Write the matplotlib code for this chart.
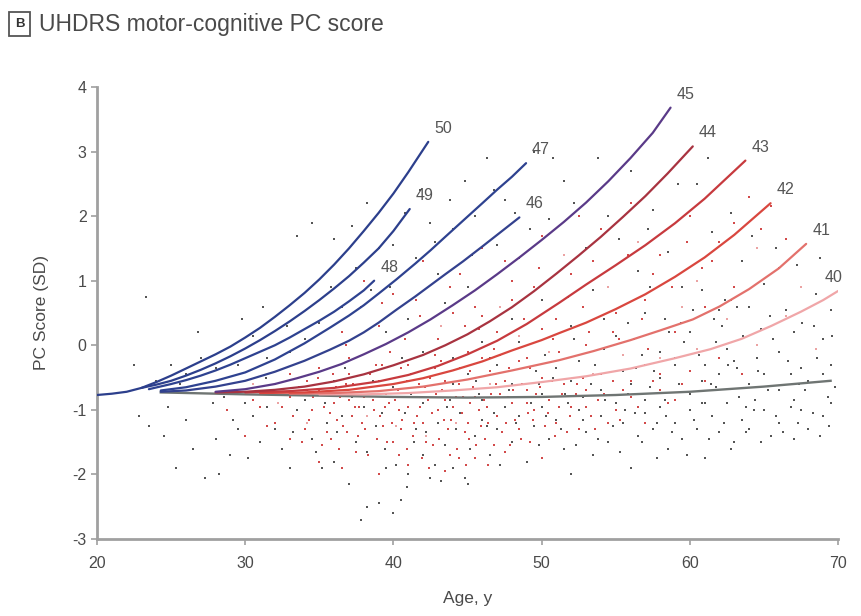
import numpy as np
import matplotlib.pyplot as plt

plt.rcParams['font.family'] = ['Liberation Sans', 'DejaVu Sans']
plt.rcParams['axes.unicode_minus'] = False

# fitted trajectories: (age, PC score) per CAG length
curves = {
    '50': [(20, -0.77), (21, -0.75), (22, -0.72), (23, -0.66), (24, -0.57), (25, -0.47), (26, -0.36),
           (27, -0.25), (28, -0.14), (29, -0.02), (30, 0.12), (31, 0.27), (32, 0.44), (33, 0.62),
           (34, 0.81), (35, 1.02), (36, 1.25), (37, 1.5), (38, 1.77), (39, 2.05), (40, 2.35),
           (41, 2.68), (42.35, 3.15)],
    '49': [(23, -0.66), (24, -0.61), (25, -0.55), (26, -0.47), (27, -0.38), (28, -0.28), (29, -0.17),
           (30, -0.05), (31, 0.08), (32, 0.22), (33, 0.37), (34, 0.53), (35, 0.7), (36, 0.88),
           (37, 1.07), (38, 1.28), (39, 1.5), (40, 1.77), (41.1, 2.11)],
    '48': [(23.5, -0.68), (25, -0.6), (26, -0.54), (27, -0.47), (28, -0.39), (29, -0.3), (30, -0.2),
           (31, -0.1), (32, 0.0), (33, 0.12), (34, 0.25), (35, 0.38), (36, 0.52), (37, 0.68),
           (38, 0.85), (38.7, 1.0)],
    '47': [(24.3, -0.7), (26, -0.65), (28, -0.55), (30, -0.42), (32, -0.22), (34, 0.03), (35.7, 0.27),
           (37, 0.46), (38, 0.62), (39, 0.8), (40.2, 1.02), (41.5, 1.27), (42.5, 1.47), (43.5, 1.68),
           (44.7, 1.93), (46, 2.2), (47, 2.41), (48, 2.61), (48.95, 2.82)],
    '46': [(24.3, -0.72), (26, -0.7), (28, -0.64), (30, -0.55), (32, -0.41), (34, -0.24),
           (35.7, -0.07), (37, 0.07), (38, 0.2), (39, 0.35), (40.2, 0.55), (41.5, 0.76), (42.5, 0.93),
           (43.5, 1.1), (44.7, 1.3), (46, 1.53), (47, 1.71), (48.5, 1.98)],
    '45': [(28, -0.72), (30, -0.68), (32, -0.6), (33.5, -0.51), (35, -0.41), (36.5, -0.29),
           (38, -0.14), (39.5, 0.02), (41, 0.2), (42.5, 0.4), (44, 0.62), (45.5, 0.85), (47, 1.1),
           (48.5, 1.36), (50, 1.63), (51.5, 1.91), (53, 2.21), (54.5, 2.54), (56, 2.9), (57.5, 3.29),
           (58.7, 3.68)],
    '44': [(28, -0.73), (30, -0.72), (32, -0.69), (34, -0.64), (36, -0.56), (38, -0.45), (40, -0.31),
           (42, -0.15), (43.5, 0.0), (45, 0.17), (46.5, 0.37), (48, 0.59), (49.5, 0.84), (51, 1.11),
           (52.5, 1.39), (54, 1.68), (55.5, 1.99), (57, 2.31), (58.5, 2.66), (60.2, 3.08)],
    '43': [(30, -0.73), (33, -0.71), (36, -0.66), (39, -0.56), (41, -0.46), (43, -0.32), (45, -0.14),
           (47, 0.07), (49, 0.33), (51.2, 0.66), (53, 0.94), (55, 1.24), (57, 1.55), (59, 1.89),
           (61, 2.27), (63.75, 2.86)],
    '42': [(31, -0.74), (34, -0.73), (37, -0.69), (40, -0.6), (42, -0.51), (44, -0.39), (46, -0.25),
           (48, -0.08), (50, 0.08), (51.2, 0.19), (53, 0.35), (55, 0.56), (57, 0.79), (59, 1.06),
           (61, 1.36), (63, 1.71), (65.45, 2.2)],
    '41': [(33, -0.75), (36, -0.74), (39, -0.71), (42, -0.64), (45, -0.53), (48, -0.39), (51.2, -0.23),
           (53.5, -0.09), (56, 0.08), (58, 0.23), (60.2, 0.4), (62, 0.6), (64, 0.87), (66, 1.19),
           (67.85, 1.57)],
    '40': [(35, -0.76), (38, -0.76), (41, -0.74), (44, -0.7), (47, -0.65), (50, -0.57), (53, -0.48),
           (56, -0.36), (59, -0.2), (61.4, -0.06), (63.5, 0.1), (65.5, 0.3), (67.5, 0.52), (69, 0.7),
           (70, 0.84)],
}
control = [(24.3, -0.73), (30, -0.76), (35, -0.78), (40, -0.8), (45, -0.81), (50, -0.8),
           (55, -0.77), (60, -0.72), (65, -0.64), (69.5, -0.55)]

curve_colors = {
    '50': '#2c3f8c', '49': '#2c3f8c', '48': '#2e4290', '47': '#2e4290', '46': '#33418e',
    '45': '#5a3a88', '44': '#a83340', '43': '#c73a3e', '42': '#d9473f',
    '41': '#e3716c', '40': '#f0a6a8',
}

# individual observations (rough readings of the cloud)
dark_pts = [
    (23.3, 0.75), (36.0, 1.65), (37.5, 1.2), (38.5, 0.85), (39.0, 1.5), (40.8, 2.05), (40.0, 1.55),
    (41.5, 1.35), (42.5, 1.9), (43.0, 1.1), (44.0, 1.8), (44.8, 2.55), (45.5, 2.0), (46.3, 2.9),
    (47.0, 1.55), (47.5, 2.25), (48.5, 1.35), (49.5, 3.0), (50.5, 1.95), (51.5, 2.55), (53.0, 1.5),
    (54.5, 2.0), (56.0, 2.7), (56.5, 1.15), (57.5, 2.1), (58.5, 1.45), (59.5, 0.9), (60.5, 2.5),
    (61.5, 1.75), (62.0, 0.55), (63.5, 1.3), (64.0, 0.6), (65.0, 0.95), (66.5, 0.55), (67.0, 0.2),
    (68.5, 0.8), (69.0, 0.1), (43.5, 0.65), (45.0, 0.9), (41.0, 0.4), (39.5, 0.2), (36.5, 0.6),
    (35.0, 0.35), (34.0, 0.1), (33.0, -0.1), (31.5, -0.2), (30.5, 0.15), (29.5, -0.3), (28.0, -0.35),
    (27.0, -0.2), (26.0, -0.45), (25.0, -0.3), (24.0, -0.55), (50.0, 0.7), (52.0, 0.3), (53.5, 0.85),
    (55.0, 0.15), (57.0, 0.5), (58.0, -0.1), (60.0, 0.2), (61.0, -0.3), (62.5, -0.05), (64.5, -0.2),
    (66.0, -0.1), (67.5, -0.35), (69.5, -0.3), (55.5, -0.4), (52.5, -0.25), (48.0, 0.4), (46.0, 0.05),
    (44.0, -0.2), (42.0, -0.1), (55.8, 0.35), (58.3, 0.4), (60.2, 0.55), (62.2, 0.3), (59.0, -0.2),
    (61.8, 0.05), (63.2, -0.35), (56.8, -0.15), (54.2, -0.05), (64.8, 0.25), (66.8, -0.45),
    (22.8, -1.1), (23.5, -1.25), (24.5, -1.4), (25.3, -1.9), (26.0, -1.15), (27.3, -2.05),
    (28.2, -2.0), (28.0, -1.45), (29.0, -1.7), (29.5, -1.3), (30.5, -1.1), (31.0, -1.5), (32.0, -1.3),
    (33.0, -1.9), (33.5, -1.0), (34.5, -1.45), (35.5, -1.2), (36.0, -1.8), (36.5, -1.1), (37.0, -2.15),
    (37.5, -1.5), (37.8, -2.7), (38.2, -2.5), (39.0, -2.45), (40.0, -2.6), (40.5, -2.4), (39.5, -1.9),
    (41.0, -2.0), (41.5, -1.3), (42.0, -1.7), (42.5, -2.05), (43.0, -1.2), (43.5, -1.55), (44.0, -1.9),
    (44.5, -1.05), (45.0, -2.15), (45.5, -1.4), (46.0, -1.15), (46.5, -1.7), (47.0, -1.3), (47.5, -0.95),
    (48.0, -1.5), (48.5, -1.1), (49.0, -1.8), (49.5, -1.25), (50.0, -0.95), (50.5, -1.45), (51.0, -1.15),
    (51.5, -1.6), (52.0, -2.0), (52.5, -1.0), (53.0, -1.35), (53.5, -1.7), (54.0, -1.1), (54.5, -1.5),
    (55.0, -0.9), (55.5, -1.2), (56.0, -1.9), (56.5, -1.4), (57.0, -1.05), (57.5, -1.3), (58.0, -0.95),
    (58.5, -1.6), (59.0, -1.2), (59.5, -1.45), (60.0, -1.0), (60.5, -1.3), (61.0, -1.75), (61.5, -1.1),
    (62.0, -1.35), (62.5, -0.9), (63.0, -1.5), (63.5, -1.15), (64.0, -1.3), (65.0, -1.0), (65.5, -1.4),
    (66.0, -1.2), (67.0, -1.45), (67.5, -1.0), (68.0, -1.3), (69.0, -1.1), (69.5, -0.9),
    (30.0, -0.9), (32.0, -0.6), (34.0, -0.85), (36.0, -0.55), (38.0, -0.95), (40.0, -0.65),
    (42.0, -0.9), (44.0, -0.6), (46.0, -0.85), (48.0, -0.6), (50.0, -0.75), (52.0, -0.55),
    (54.0, -0.7), (56.0, -0.6), (58.0, -0.5), (60.0, -0.75), (62.0, -0.45), (64.0, -0.6),
    (66.0, -0.7), (68.0, -0.55), (69.8, -0.65), (45.0, -0.45), (47.0, -0.3), (51.0, -0.35),
    (53.0, -0.95), (57.0, -0.85), (59.0, -0.3), (61.0, -0.9), (63.0, -0.25), (65.0, -0.45),
    (67.0, -0.85), (69.0, -0.45), (34.8, -1.65), (38.8, -1.25), (40.8, -1.05), (43.8, -0.85),
    (46.8, -1.05), (49.8, -0.6), (52.8, -0.8), (57.8, -1.75), (60.8, -0.55), (63.8, -0.95),
    (22.5, -0.3), (24.8, -0.95), (26.5, -1.6), (27.8, -0.9), (29.2, -1.15), (30.2, -1.75), (31.5, -0.95),
    (32.5, -1.6), (26.8, 0.2), (29.8, 0.4), (31.2, 0.6), (32.8, 0.3), (33.5, 1.7), (34.5, 1.9),
    (35.8, 0.9), (37.2, 1.85), (38.2, 2.2), (39.8, 0.9), (41.8, 2.4), (42.8, 1.6), (43.8, 2.25),
    (45.3, 1.4), (46.8, 2.4), (48.2, 2.05), (49.2, 1.8), (50.8, 2.9), (52.2, 2.2), (53.8, 2.9),
    (55.2, 1.65), (57.2, 1.8), (59.2, 2.5), (61.2, 2.9), (62.8, 2.05), (64.2, 1.7), (65.8, 1.5),
    (67.2, 1.25), (68.8, 1.35), (69.5, 0.55),
    (45.2, -1.6), (45.8, -0.75), (46.3, -1.25), (47.2, -1.85), (47.8, -0.7), (48.3, -1.2), (49.3, -0.9),
    (49.8, -1.55), (50.3, -1.1), (50.8, -0.5), (51.3, -1.3), (51.8, -0.9), (52.3, -1.55), (52.8, -1.15),
    (53.3, -0.6), (53.8, -1.45), (54.3, -0.85), (54.8, -1.25), (55.3, -1.65), (55.8, -0.75),
    (56.3, -1.05), (56.8, -1.5), (57.3, -0.65), (57.8, -1.2), (58.3, -0.85), (58.8, -1.35), (59.3, -0.6),
    (59.8, -1.7), (60.3, -1.15), (60.8, -0.9), (61.3, -1.45), (61.8, -0.65), (62.3, -1.2), (62.8, -1.6),
    (63.3, -0.8), (63.8, -1.35), (64.3, -1.0), (64.8, -1.5), (65.3, -0.7), (65.8, -1.1), (66.3, -1.35),
    (66.8, -0.95), (67.3, -1.2), (67.8, -0.7), (68.3, -1.05), (68.8, -1.4), (69.3, -0.8),
    (46.5, -0.2), (48.5, 0.05), (50.2, -0.15), (52.2, 0.1), (54.2, 0.4), (56.2, 0.1), (57.6, -0.4),
    (58.6, 0.2), (59.6, 0.05), (60.6, -0.15), (61.6, 0.4), (62.6, -0.3), (63.6, 0.15), (64.6, -0.4),
    (65.6, 0.1), (66.6, -0.25), (67.6, 0.35), (68.6, -0.2), (69.6, 0.15), (57.3, 0.9), (60.8, 0.85),
    (63.2, 0.6), (33.2, -1.35), (34.2, -0.7), (35.2, -1.9), (36.2, -1.35), (37.2, -0.8), (38.2, -1.65),
    (39.2, -1.05), (40.2, -1.85), (41.2, -0.75), (42.2, -1.35), (43.2, -2.1), (44.2, -1.3),
    (40.9, -2.2), (42.8, -1.85), (44.8, -2.05),
    (36.7, -0.35), (38.6, -0.55), (40.6, -0.2), (43.6, -0.95), (45.6, -0.55), (47.6, -1.2), (49.6, -0.4),
    (51.6, -0.75), (53.6, -0.3), (55.6, -1.0), (58.4, -1.1), (61.4, -0.6), (64.4, -0.85), (67.4, -0.6),
    (69.4, -1.25), (56.4, -0.35), (59.4, 0.35), (62.4, 0.7), (65.4, 0.45), (68.4, 0.3), (39.4, -1.6),
    (41.4, -1.5), (35.4, -0.9), (31.4, -0.5), (28.6, -0.8), (25.6, -0.6),
]

red_pts = [
    (38.0, 1.0), (40.0, 0.8), (42.0, 1.3), (44.0, 0.5), (46.0, 1.5), (48.0, 1.0), (50.0, 1.7),
    (52.0, 1.1), (54.0, 1.8), (56.0, 2.2), (58.0, 1.4), (60.0, 2.0), (62.0, 1.6), (64.0, 2.3),
    (65.5, 2.15), (66.0, 1.2), (63.0, 0.9), (61.0, 0.6), (59.0, 0.2), (57.0, 0.7), (55.0, 0.5),
    (53.0, 0.0), (51.0, 0.4), (49.0, -0.2), (47.0, 0.2), (45.0, -0.1), (43.0, 0.1), (41.0, -0.3),
    (39.0, 0.3), (37.0, -0.2), (35.0, -0.35), (33.0, -0.45), (36.5, 0.2), (39.8, -0.1), (42.8, -0.35),
    (31.0, -0.95), (32.0, -1.2), (33.0, -0.8), (33.8, -1.5), (34.5, -1.0), (35.0, -0.7), (35.5, -1.35),
    (36.0, -0.9), (36.3, -1.6), (36.8, -0.6), (37.2, -1.1), (37.6, -1.4), (38.0, -0.8), (38.3, -1.7),
    (38.7, -1.0), (39.0, -0.55), (39.3, -1.25), (39.7, -0.9), (40.0, -1.5), (40.3, -0.7), (40.6, -1.15),
    (41.0, -0.95), (41.3, -1.4), (41.7, -0.6), (42.0, -1.2), (42.3, -0.85), (42.7, -1.55), (43.0, -1.0),
    (43.3, -0.7), (43.7, -1.3), (44.0, -0.95), (44.3, -1.6), (44.7, -0.8), (45.0, -1.2), (45.4, -0.65),
    (45.8, -1.0), (46.2, -1.45), (46.6, -0.75), (47.0, -1.1), (47.5, -0.55), (48.0, -0.9), (48.5, -1.3),
    (49.0, -0.7), (49.5, -1.0), (50.0, -0.5), (50.5, -0.85), (51.0, -1.2), (51.5, -0.6), (52.0, -0.95),
    (53.0, -0.7), (54.0, -0.45), (55.0, -1.0), (56.0, -0.55), (57.0, -0.3), (58.0, -0.7), (60.0, -0.4),
    (34.2, -0.55), (36.2, -1.15), (38.4, -0.45), (40.5, -0.35), (42.5, -0.5), (44.5, -0.35),
    (46.5, -0.4), (48.5, -0.25), (37.4, -0.95), (41.9, -1.75), (44.9, -1.85), (47.9, -1.55),
    (35.9, -0.45), (39.5, -0.75), (43.5, -0.55), (46.0, -0.2), (49.2, -1.5), (52.5, -1.3),
    (30.0, -1.4), (31.8, -0.7), (28.8, -1.0), (37.8, 0.6), (41.5, 0.7), (45.5, 0.6), (49.5, 0.9),
    (53.5, 1.3), (57.5, 1.1), (61.5, 1.3), (44.5, 1.1), (47.5, 1.3), (52.5, 2.0), (63.0, 1.9),
    (34.0, -1.3), (34.6, -0.8), (35.2, -1.55), (35.7, -1.05), (36.1, -0.65), (36.6, -1.25), (37.0, -0.85),
    (37.5, -1.65), (37.9, -1.2), (38.5, -0.65), (38.9, -1.45), (39.4, -0.95), (39.9, -1.2), (40.4, -1.0),
    (40.9, -1.6), (41.2, -0.8), (41.6, -1.1), (42.1, -0.65), (42.6, -1.05), (43.1, -1.45), (43.5, -0.85),
    (43.9, -1.15), (44.4, -0.6), (44.8, -1.35), (45.2, -0.9), (45.6, -1.55), (46.1, -0.85), (46.4, -1.2),
    (46.9, -0.6), (47.3, -1.35), (47.7, -0.8), (48.2, -1.15), (48.7, -0.6), (49.1, -1.05), (49.6, -0.75),
    (50.2, -1.25), (50.7, -0.55), (51.2, -0.95), (51.7, -1.35), (52.3, -0.75), (52.8, -0.5), (53.3, -1.1),
    (53.8, -0.85), (54.5, -1.2), (55.5, -0.7), (56.5, -0.95), (57.5, -0.55), (58.5, -0.9), (59.5, -0.6),
    (61.0, -0.55), (62.0, -0.2), (63.5, -0.45), (36.8, 0.0), (38.8, -0.3), (40.8, 0.1), (42.8, -0.15),
    (44.8, 0.3), (46.8, -0.05), (48.8, 0.4), (50.8, 0.1), (52.8, 0.6), (54.8, 0.2), (56.8, 0.4),
    (58.8, 0.9), (60.8, 1.2), (62.8, 0.7), (64.8, 1.8), (66.5, 1.65), (59.8, 1.6), (55.8, 1.4),
    (51.8, 0.75), (47.8, -0.35), (45.8, 0.25), (41.8, 0.45), (39.2, 0.65), (43.8, 0.9), (49.8, 1.2),
    (36.5, -1.9), (39.0, -2.0), (41.0, -1.85), (43.5, -1.95), (45.5, -1.75), (47.5, -1.65), (50.0, -1.75),
    (35.0, -1.8), (33.0, -1.45), (31.5, -1.25), (30.5, -0.85),
    (32.5, -0.95), (33.2, -1.1), (33.6, -0.65), (34.3, -1.15), (34.9, -0.5), (35.3, -0.95), (35.8, -1.45),
    (36.4, -0.8), (36.9, -1.35), (37.3, -0.6), (37.7, -0.95), (38.1, -1.3), (38.6, -0.85), (39.1, -1.1),
    (39.6, -1.5), (40.1, -0.85), (40.5, -1.3), (40.9, -0.55), (41.4, -1.2), (41.8, -0.95), (42.2, -1.5),
    (42.9, -0.75), (43.4, -1.15), (43.8, -1.7), (44.2, -0.8), (44.6, -1.05), (45.1, -1.45), (45.5, -0.8),
    (45.9, -1.25), (46.3, -0.95), (46.8, -1.55), (47.2, -0.75), (47.6, -1.2), (48.1, -0.7), (48.6, -1.45),
    (49.0, -0.9), (49.4, -1.15), (49.9, -0.65), (50.4, -1.05), (50.9, -1.4), (51.4, -0.75), (51.9, -1.1),
    (52.4, -0.6), (53.0, -0.95), (53.6, -1.3), (54.2, -0.75), (54.8, -0.55), (55.3, -1.15), (56.0, -0.8),
    (57.0, -1.2), (58.0, -0.45), (59.0, -0.85), (37.0, -0.45), (39.2, -0.3), (41.2, -0.45), (43.2, -0.25),
    (45.2, -0.4), (47.2, -0.15), (49.2, -0.35), (51.2, -0.1), (53.2, 0.2), (55.2, 0.1), (57.2, -0.05),
    (46.0, 0.45), (48.0, 0.7), (50.0, 0.25), (40.4, -1.7), (42.4, -1.9), (44.4, -1.75), (46.4, -1.85),
]

pink_pts = [
    (58.0, -0.2), (60.5, -0.05), (62.5, 0.4), (64.5, 0.0), (66.5, 0.45), (68.5, -0.05), (59.5, 0.6),
    (55.5, -0.15), (53.5, -0.45), (50.5, -0.1), (48.5, 0.15), (46.5, -0.6), (44.2, -1.2), (42.2, -1.4),
    (40.2, -1.25), (38.2, -1.1), (36.2, -0.75), (34.2, -1.2), (32.2, -0.9), (30.5, -0.6), (56.5, 1.6),
    (60.5, 1.0), (64.5, 1.5), (67.5, 0.9), (54.5, 0.9), (51.5, 1.4), (47.2, 0.6), (43.2, 0.3),
]

fig = plt.figure(figsize=(8.61, 6.16), dpi=100)
ax = fig.add_axes([0.1127, 0.125, 0.8606, 0.7338])

for pts, col in [(dark_pts, '#555555'), (red_pts, '#d24a4a'), (pink_pts, '#eba3a3')]:
    arr = np.array(pts)
    ax.scatter(arr[:, 0], arr[:, 1], s=4, color=col, marker='s', linewidths=0, zorder=1)

ctrl = np.array(control)
ax.plot(ctrl[:, 0], ctrl[:, 1], color='#6f7573', lw=1.7, zorder=2)

for cag in ['40', '41', '42', '43', '44', '45', '46', '47', '48', '49', '50']:
    arr = np.array(curves[cag])
    ax.plot(arr[:, 0], arr[:, 1], color=curve_colors[cag], lw=1.6, zorder=3,
            solid_capstyle='round', solid_joinstyle='round')
    dx = -13 if cag == '40' else 6
    ax.annotate(cag, xy=(arr[-1, 0], arr[-1, 1]), xytext=(dx, 6), textcoords='offset pixels',
                ha='left', va='bottom', fontsize=11.5, color='#555555')

ax.set_xlim(20, 70)
ax.set_ylim(-3, 4)
ax.set_xticks([20, 30, 40, 50, 60, 70])
ax.set_yticks([-3, -2, -1, 0, 1, 2, 3, 4])
for side in ['top', 'right']:
    ax.spines[side].set_visible(False)
for side in ['left', 'bottom']:
    ax.spines[side].set_color('#a0a0a0')
    ax.spines[side].set_linewidth(2)
ax.tick_params(colors='#a0a0a0', labelcolor='#4a4a4a', labelsize=11.5, length=4, width=1.2)
ax.tick_params(axis='x', pad=8)
ax.set_xlabel('Age, y', fontsize=12.5, color='#4a4a4a', labelpad=15)
ax.set_ylabel('PC Score (SD)', fontsize=12.5, color='#4a4a4a', labelpad=17)

# panel header
fig.text(0.023, 0.961, 'B', fontsize=9.5, fontweight='bold', color='#333333', ha='center', va='center',
         bbox=dict(boxstyle='square,pad=0.45', facecolor='white', edgecolor='#555555', linewidth=1.3))
fig.text(0.045, 0.961, 'UHDRS motor-cognitive PC score', fontsize=16.5, color='#4a4a4a',
         ha='left', va='center')

fig.savefig('out.png', dpi=100)
